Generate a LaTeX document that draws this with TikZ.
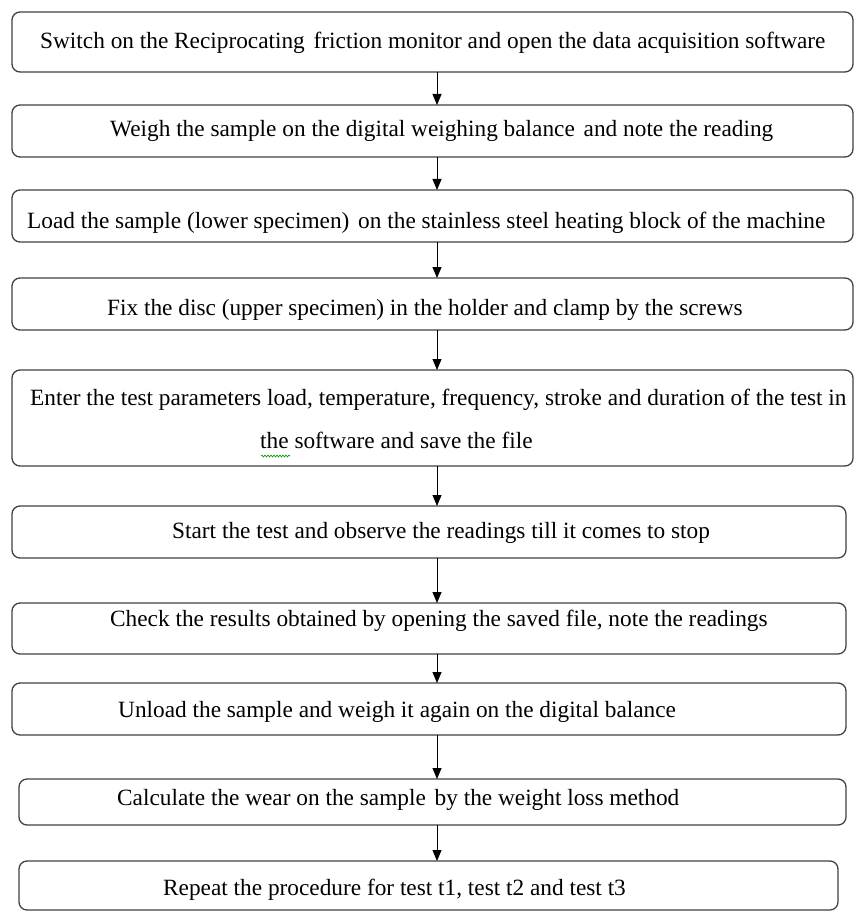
\documentclass[tikz,border=0pt]{standalone}
\usepackage{fontspec}
\setmainfont{Liberation Serif}
\usetikzlibrary{arrows.meta,decorations.pathmorphing}
\begin{document}
\begin{tikzpicture}[x=1pt,y=-1pt,
  stepbox/.style={draw=black!75,line width=1.3pt,rounded corners=8pt,inner sep=0pt,outer sep=0pt},
  lbl/.style={anchor=base west,inner sep=0pt,font=\fontsize{23.3}{28}\selectfont},
  arr/.style={draw=black,line width=1pt,-{Triangle[length=11pt,width=9pt]}}]
\useasboundingbox (0,0) rectangle (855,912);
\coordinate (ax) at (437,0);
% boxes
\node[stepbox,minimum width=841pt,minimum height=60pt] (b1) at (432.5,42) {};
\node[stepbox,minimum width=841pt,minimum height=52pt] (b2) at (432.5,131) {};
\node[stepbox,minimum width=841pt,minimum height=52pt] (b3) at (432.5,216) {};
\node[stepbox,minimum width=841pt,minimum height=52pt] (b4) at (432.5,304) {};
\node[stepbox,minimum width=841pt,minimum height=96pt] (b5) at (432.5,418) {};
\node[stepbox,minimum width=834pt,minimum height=52pt] (b6) at (429,532) {};
\node[stepbox,minimum width=834pt,minimum height=51pt] (b7) at (429,628.5) {};
\node[stepbox,minimum width=834pt,minimum height=52pt] (b8) at (429,709) {};
\node[stepbox,minimum width=827pt,minimum height=46pt] (b9) at (432.5,802) {};
\node[stepbox,minimum width=819pt,minimum height=49pt] (b10) at (428.5,885.5) {};
% texts
\node[lbl] (t1) at (40,49) {Switch on the Reciprocating\hspace{3pt} friction monitor and open the data acquisition software};
\node[lbl] (t2) at (110,137) {Weigh the sample on the digital weighing balance\hspace{3pt} and note the reading};
\node[lbl] (t3) at (27,228) {Load the sample (lower specimen)\hspace{3pt} on the stainless steel heating block of the machine};
\node[lbl] (t4) at (107,315) {Fix the disc (upper specimen) in the holder and clamp by the screws};
\node[lbl] (t5a) at (30,405) {Enter the test parameters load, temperature, frequency, stroke and duration of the test in};
\node[lbl] (t5b) at (260,448) {the software and save the file};
\node[lbl] (t6) at (172,538) {Start the test and observe the readings till it comes to stop};
\node[lbl] (t7) at (110,626) {Check the results obtained by opening the saved file, note the readings};
\node[lbl] (t8) at (118,717) {Unload the sample and weigh it again on the digital balance};
\node[lbl] (t9) at (117,805) {Calculate the wear on the sample\hspace{3pt} by the weight loss method};
\node[lbl] (t10) at (163,895) {Repeat the procedure for test t1, test t2 and test t3};
% spell-check squiggle
\draw[green!60!black,line width=0.6pt,decorate,decoration={snake,amplitude=1pt,segment length=3pt}] (261,456) -- (290,456);
% arrows
\draw[arr] (b1.south -| ax) -- (b2.north -| ax);
\draw[arr] (b2.south -| ax) -- (b3.north -| ax);
\draw[arr] (b3.south -| ax) -- (b4.north -| ax);
\draw[arr] (b4.south -| ax) -- (b5.north -| ax);
\draw[arr] (b5.south -| ax) -- (b6.north -| ax);
\draw[arr] (b6.south -| ax) -- (b7.north -| ax);
\draw[arr] (b7.south -| ax) -- (b8.north -| ax);
\draw[arr] (b8.south -| ax) -- (b9.north -| ax);
\draw[arr] (b9.south -| ax) -- (b10.north -| ax);
\end{tikzpicture}
\end{document}
